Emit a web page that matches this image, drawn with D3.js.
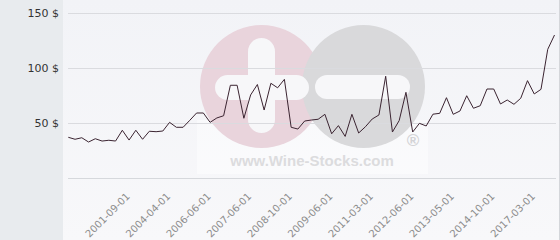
<!DOCTYPE html>
<html>
<head>
<meta charset="utf-8">
<script src="https://cdn.jsdelivr.net/npm/d3@7"></script>
<style>
  html, body { margin: 0; padding: 0; background: #f5f6f9; }
  svg { display: block; }
</style>
</head>
<body>
<svg id="chart" width="560" height="240"></svg>
<script>
// ---- data ----
const prices = [
  37.0, 35.2, 36.6, 32.7, 35.7, 33.6, 34.3, 33.6, 43.4, 34.5,
  43.4, 35.2, 42.5, 42.1, 42.7, 50.6, 46.1, 46.1, 52.5, 59.1,
  59.1, 50.6, 54.6, 56.6, 84.3, 84.3, 54.3, 75.5, 85.0, 61.8,
  86.1, 82.0, 89.7, 46.1, 44.5, 51.8, 52.7, 53.4, 57.9, 40.2,
  47.6, 37.8, 57.9, 40.9, 46.6, 53.6, 57.3, 92.5, 41.8, 52.2,
  77.9, 41.8, 49.7, 47.3, 58.0, 58.8, 73.0, 57.9, 60.9, 74.8,
  63.4, 65.7, 80.9, 80.9, 67.3, 70.9, 67.0, 72.5, 88.5, 76.4,
  80.6, 117.0, 130.0
];
const tickIndices = [9, 15, 21, 27, 33, 39, 45, 51, 57, 63, 69];
const tickLabels = [
  "2001-09-01", "2004-04-01", "2006-06-01", "2007-06-01", "2008-10-01",
  "2009-06-01", "2011-03-01", "2012-06-01", "2013-05-01", "2014-10-01", "2017-03-01"
];
const yTicks = [50, 100, 150];

// ---- layout ----
const svg = d3.select("#chart");
const W = 560, H = 240;
const plot = { left: 68.3, right: 554.5, top: 13, bottom: 178 };

const defs = svg.append("defs");
const grad = defs.append("linearGradient").attr("id", "bg").attr("x1", 0).attr("y1", 0).attr("x2", 0).attr("y2", 1);
grad.append("stop").attr("offset", "0%").attr("stop-color", "#f2f3f7");
grad.append("stop").attr("offset", "100%").attr("stop-color", "#f8f8fa");

// backgrounds
svg.append("rect").attr("x", 0).attr("y", 0).attr("width", W).attr("height", H).attr("fill", "url(#bg)");
svg.append("rect").attr("x", 0).attr("y", 0).attr("width", 63).attr("height", H).attr("fill", "#e8ebee");
svg.append("line").attr("x1", 559.5).attr("x2", 559.5).attr("y1", 0).attr("y2", H)
  .attr("stroke", "#d4d6da").attr("stroke-width", 1);

const x = d3.scaleLinear().domain([0, prices.length - 1]).range([plot.left, plot.right]);
const y = d3.scaleLinear().domain([0, 150]).range([plot.bottom, plot.top]);

// ---- watermark ----
const wm = svg.append("g").attr("class", "watermark");
wm.append("rect").attr("x", 197).attr("y", 120).attr("width", 231).attr("height", 54)
  .attr("fill", "#ffffff").attr("opacity", 0.45);
wm.append("circle").attr("cx", 261.5).attr("cy", 86.5).attr("r", 61.5).attr("fill", "#e9d4dc");
wm.append("circle").attr("cx", 363.5).attr("cy", 86.5).attr("r", 61.5).attr("fill", "#d9d9db");
// plus sign in pink circle
wm.append("rect").attr("x", 248).attr("y", 38).attr("width", 27).attr("height", 95)
  .attr("rx", 13.5).attr("fill", "#f7f7f9");
wm.append("rect").attr("x", 215).attr("y", 75).attr("width", 94).attr("height", 25)
  .attr("rx", 12.5).attr("fill", "#f7f7f9");
// minus sign in grey circle
wm.append("rect").attr("x", 315).attr("y", 75).attr("width", 95).attr("height", 24)
  .attr("rx", 12).attr("fill", "#f7f7f9");
wm.append("text").attr("x", 312).attr("y", 166).attr("text-anchor", "middle")
  .attr("font-family", "Liberation Sans, Arial, sans-serif").attr("font-weight", "bold")
  .attr("font-size", 15).attr("fill", "#dcdcde").text("www.Wine-Stocks.com");
wm.append("text").attr("x", 413).attr("y", 145.5).attr("text-anchor", "middle")
  .attr("font-family", "Liberation Sans, Arial, sans-serif").attr("font-weight", "bold")
  .attr("font-size", 17).attr("fill", "#d3d3d6").text("®");

// ---- grid + y axis ----
const yAxis = d3.axisLeft(y).tickValues(yTicks).tickSize(0).tickPadding(0)
  .tickFormat(d => d + " $");
const gy = svg.append("g").attr("transform", "translate(59,0)").call(yAxis);
gy.select(".domain").remove();
gy.selectAll("text").attr("font-family", "DejaVu Sans, sans-serif").attr("font-size", 11)
  .attr("fill", "#333").attr("dy", "0.32em");

svg.append("g").selectAll("line").data(yTicks).join("line")
  .attr("x1", 68).attr("x2", 556)
  .attr("y1", d => Math.round(y(d)) + 0.5).attr("y2", d => Math.round(y(d)) + 0.5)
  .attr("stroke", "#dadbdf").attr("stroke-width", 1);

// x axis baseline
svg.append("line").attr("x1", 68).attr("x2", 556)
  .attr("y1", Math.round(y(0)) + 0.5).attr("y2", Math.round(y(0)) + 0.5)
  .attr("stroke", "#d6d8dc").attr("stroke-width", 1);

// ---- x axis labels ----
const xAxis = d3.axisBottom(x).tickValues(tickIndices).tickSize(0).tickPadding(0)
  .tickFormat((d, i) => tickLabels[i]);
const gx = svg.append("g").attr("transform", `translate(0,${y(0)})`).call(xAxis);
gx.select(".domain").remove();
gx.selectAll("text")
  .attr("font-family", "DejaVu Sans, sans-serif").attr("font-size", 10)
  .attr("fill", "#8c8c8c")
  .attr("text-anchor", "end")
  .attr("dy", null).attr("y", null)
  .attr("transform", "translate(1,19) rotate(-45)");

// ---- price line ----
const line = d3.line().x((d, i) => x(i)).y(d => y(d));
svg.append("path").datum(prices)
  .attr("d", line)
  .attr("fill", "none")
  .attr("stroke", "#3b2431")
  .attr("stroke-width", 1)
  .attr("stroke-linejoin", "miter");
</script>
</body>
</html>
